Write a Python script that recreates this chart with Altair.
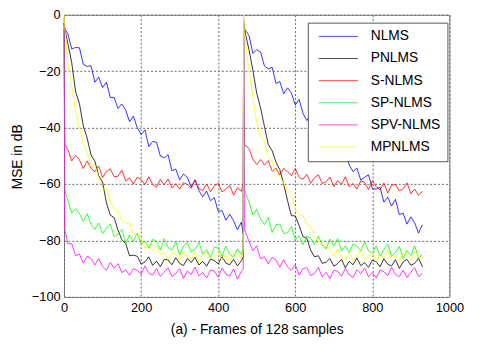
import altair as alt
import pandas as pd

series_names = ["NLMS", "PNLMS", "S-NLMS", "SP-NLMS", "SPV-NLMS", "MPNLMS"]
series_colors = ["#0000ff", "#000000", "#ff0000", "#00ff00", "#ff00ff", "#ffff00"]

x_ticks = [0, 200, 400, 600, 800, 1000]
y_ticks = [-100, -80, -60, -40, -20, 0]

# frame indices of the sampled points (echo path change after frame 465)
frames_seg1 = [0, 2] + list(range(10, 461, 10)) + [465]
frames_seg2 = [466, 468] + list(range(480, 931, 10))

nlms_seg1 = [-3, -5, -6.8, -12.1, -11.6, -11.7, -17.6, -18.3, -18.1, -23.9, -22.1, -25.8, -23.9, -29.3,
             -29.3, -33.2, -31.6, -33.8, -37.9, -35.9, -40.0, -42.4, -40.8, -46.7, -44.9, -45.2, -50.1,
             -50.7, -49.6, -55.3, -54.7, -58.5, -56.4, -57.7, -61.0, -58.5, -62.4, -64.5, -62.5, -65.9,
             -64.8, -69.7, -69.4, -72.8, -70.7, -73.0, -76.2, -73.5, -77.7]
nlms_seg2 = [-2, -5, -7.3, -13.7, -12.4, -13.2, -18.1, -19.2, -18.6, -24.3, -23.7, -28.0, -25.9, -27.7,
             -32.0, -30.0, -34.9, -37.5, -35.5, -39.4, -38.3, -43.7, -43.4, -47.3, -45.2, -47.5, -50.7,
             -48.5, -53.2, -55.6, -54.3, -58.6, -57.6, -56.7, -61.6, -61.8, -61.1, -66.4, -64.6, -67.8,
             -65.4, -70.8, -70.3, -74.2, -71.6, -73.8, -77.4, -74.4]

pnlms_seg1 = [-3, -5, -10.2, -17.0, -27.2, -31.5, -39.4, -43.7, -49.7, -51.9, -57.1, -59.3, -66.6, -71.0,
              -71.9, -76.3, -79.7, -81.1, -85.4, -85.2, -85.6, -88.3, -87.6, -85.8, -88.8, -87.3, -89.3,
              -86.7, -86.9, -88.6, -86.1, -88.1, -88.9, -86.4, -87.8, -86.0, -88.7, -87.4, -89.1, -86.6,
              -87.1, -88.3, -85.7, -88.0, -88.6, -86.7, -89.0, -87.2, -85.9]
pnlms_seg2 = [-3, -5, -12.4, -19.6, -27.8, -33.0, -39.5, -46.0, -48.2, -52.2, -54.9, -59.9, -65.9, -71.2,
              -71.3, -74.7, -78.6, -79.2, -83.4, -85.8, -85.4, -88.1, -87.7, -86.4, -89.1, -88.2, -86.7,
              -89.7, -87.4, -88.6, -86.2, -88.9, -87.9, -89.5, -87.0, -87.5, -89.3, -86.5, -88.4, -89.0,
              -86.8, -89.9, -87.6, -86.7, -88.8, -88.1, -86.3, -89.3]

snlms_seg1 = [-5, -46, -47.8, -51.8, -49.9, -51.4, -54.5, -51.8, -54.4, -55.6, -53.6, -57.7, -55.5, -54.6,
              -57.4, -57.2, -55.1, -58.9, -57.8, -60.0, -57.6, -58.4, -60.2, -57.4, -60.2, -61.1, -58.3,
              -60.3, -58.2, -61.4, -59.9, -61.8, -59.5, -60.1, -61.5, -58.5, -61.6, -62.3, -60.0, -62.7,
              -60.7, -59.7, -62.8, -61.7, -60.5, -63.9, -61.3, -62.6, -59.9]
snlms_seg2 = [-5, -46, -47.4, -51.2, -53.1, -51.3, -53.3, -51.7, -55.4, -54.4, -56.8, -54.5, -55.6, -57.0,
              -54.5, -57.6, -58.3, -56.5, -59.7, -57.7, -56.7, -59.8, -59.2, -57.5, -60.9, -58.8, -60.1,
              -57.4, -61.0, -59.8, -61.8, -58.9, -59.4, -62.0, -58.8, -60.9, -62.1, -59.6, -63.2, -60.5,
              -60.1, -62.4, -61.7, -59.6, -63.4, -61.8, -64.0, -62.6]

spnlms_seg1 = [-4, -62, -65.9, -70.3, -68.7, -70.5, -73.2, -70.5, -74.2, -76.1, -73.8, -77.6, -75.6, -74.2,
               -78.6, -77.8, -76.1, -80.9, -78.1, -80.3, -77.4, -81.3, -80.3, -82.7, -79.6, -80.3, -83.4,
               -79.4, -82.5, -83.4, -80.3, -85.2, -81.9, -80.7, -84.1, -83.2, -80.6, -84.8, -83.2, -86.0,
               -82.4, -82.7, -85.5, -82.0, -84.9, -86.0, -83.0, -84.9, -82.3]
spnlms_seg2 = [-4, -62, -66.3, -70.9, -68.9, -72.5, -74.4, -71.8, -77.2, -74.4, -74.2, -77.6, -77.2, -75.1,
               -79.8, -78.2, -81.5, -78.4, -79.2, -81.5, -78.5, -81.4, -83.0, -79.5, -81.9, -79.3, -83.7,
               -81.9, -84.3, -81.2, -82.0, -83.7, -80.5, -83.7, -84.6, -81.8, -85.6, -83.1, -81.2, -85.6,
               -84.3, -82.1, -86.4, -83.6, -85.3, -81.9, -86.3, -84.8]

spvnlms_seg1 = [-1, -76, -81.2, -81.1, -85.4, -84.8, -88.0, -85.6, -86.4, -88.7, -86.4, -89.2, -90.6, -87.8,
                -89.8, -88.2, -91.4, -90.4, -92.3, -90.0, -90.6, -92.0, -89.0, -91.6, -92.3, -90.0, -92.7,
                -91.2, -89.7, -92.8, -91.7, -90.0, -93.4, -90.8, -92.1, -89.4, -92.5, -91.3, -93.3, -90.4,
                -90.9, -93.0, -89.8, -91.9, -92.6, -90.1, -93.7, -91.0, -90.1]
spvnlms_seg2 = [-1, -76, -80.3, -83.6, -81.9, -86.5, -85.8, -88.3, -85.9, -86.9, -89.5, -86.8, -89.4, -90.6,
                -88.6, -92.2, -90.0, -89.6, -92.4, -91.7, -89.6, -92.9, -91.3, -93.5, -90.6, -90.9, -92.7,
                -89.9, -92.2, -93.1, -90.3, -91.8, -89.7, -92.9, -91.4, -93.3, -90.5, -91.1, -92.5, -89.5,
                -92.1, -92.8, -90.5, -93.2, -91.2, -89.7, -92.8, -91.7]

mpnlms_seg1 = [0, -4, -17.0, -25.2, -34.2, -39.9, -45.9, -48.9, -53.2, -53.3, -57.7, -61.6, -61.7, -66.4,
               -68.8, -69.4, -73.1, -73.8, -73.8, -77.8, -78.2, -79.0, -82.9, -81.3, -83.6, -81.9, -85.0,
               -84.3, -86.8, -84.4, -84.9, -87.0, -83.8, -85.9, -86.6, -84.1, -87.7, -85.0, -84.1, -86.4,
               -85.7, -83.6, -86.9, -85.3, -87.5, -84.6, -84.9, -86.7, -83.9]
mpnlms_seg2 = [0, -6, -19.7, -29.1, -38.6, -43.1, -44.8, -50.9, -51.8, -56.3, -57.4, -59.6, -62.8, -64.0,
               -68.5, -71.0, -71.2, -74.2, -74.9, -78.9, -79.9, -82.2, -82.0, -83.1, -85.5, -83.0, -86.1,
               -86.8, -84.5, -87.2, -85.2, -83.7, -86.8, -85.7, -84.0, -87.4, -84.8, -86.1, -83.4, -86.5,
               -85.3, -87.3, -84.4, -84.9, -87.0, -83.8, -85.9, -86.6]

series_values = {
    "NLMS": nlms_seg1 + nlms_seg2,
    "PNLMS": pnlms_seg1 + pnlms_seg2,
    "S-NLMS": snlms_seg1 + snlms_seg2,
    "SP-NLMS": spnlms_seg1 + spnlms_seg2,
    "SPV-NLMS": spvnlms_seg1 + spvnlms_seg2,
    "MPNLMS": mpnlms_seg1 + mpnlms_seg2,
}
frames = frames_seg1 + frames_seg2

rows = []
for name in series_names:
    vals = series_values[name]
    for i, (f, v) in enumerate(zip(frames, vals)):
        rows.append({"series": name, "frame": f, "mse": v, "idx": i})
df = pd.DataFrame(rows)

FONT = "Liberation Sans"

chart = alt.Chart(df).mark_line(strokeWidth=0.8).encode(
    x=alt.X("frame:Q",
            scale=alt.Scale(domain=[0, 1000], nice=False, zero=False),
            axis=alt.Axis(values=x_ticks, format="d", title="(a) - Frames of 128 samples",
                          labelPadding=5, titleY=33, titleBaseline="middle")),
    y=alt.Y("mse:Q",
            scale=alt.Scale(domain=[-100, 0], nice=False, zero=False),
            axis=alt.Axis(values=y_ticks, format="d", title="MSE in dB", labelPadding=4,
                          titleX=-47, titleY=144, titleBaseline="middle", titleAngle=-90)),
    color=alt.Color("series:N",
                    scale=alt.Scale(domain=series_names, range=series_colors),
                    legend=alt.Legend(orient="none", legendX=248, legendY=8, title=None,
                                      symbolType="M-4,0H4", symbolSize=100, symbolStrokeWidth=1,
                                      symbolOpacity=0.7, symbolFillColor="transparent",
                                      labelFontSize=14, labelFont=FONT, labelColor="black",
                                      labelOffset=26, padding=7, rowPadding=8.5, symbolOffset=17,
                                      fillColor="white", strokeColor="#555555")),
    order=alt.Order("idx:Q"),
).properties(
    width=392, height=287,
    padding={"left": 57, "top": 4, "right": 23, "bottom": 45},
    autosize=alt.AutoSizeParams(type="none"),
).configure_view(
    stroke="#808080", strokeWidth=1
).configure_axis(
    grid=True, gridColor="#666666", gridDash=[2, 2], gridWidth=1,
    domain=False, ticks=False, tickSize=0,
    labelFont=FONT, labelFontSize=13, labelColor="black",
    titleFont=FONT, titleFontSize=14, titleFontWeight="normal", titleColor="black",
    labelFlush=False, labelOverlap=False,
)

chart.save("out.html", embed_options={"renderer": "svg", "actions": False})
